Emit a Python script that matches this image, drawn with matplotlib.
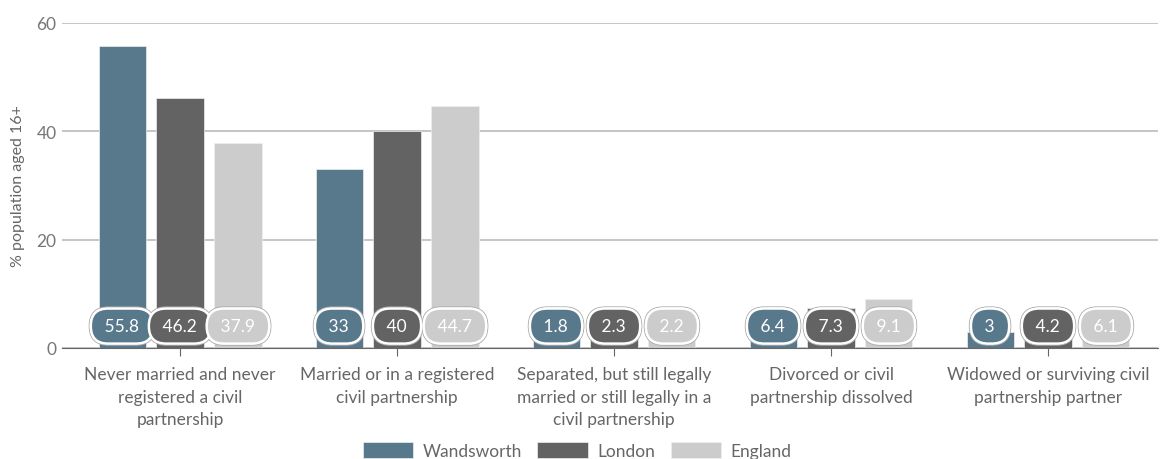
import matplotlib
matplotlib.use("Agg")
import matplotlib.pyplot as plt
import numpy as np

plt.rcParams['font.family'] = ['Lato', 'DejaVu Sans']

categories = ["Never married and never\nregistered a civil\npartnership",
              "Married or in a registered\ncivil partnership",
              "Separated, but still legally\nmarried or still legally in a\ncivil partnership",
              "Divorced or civil\npartnership dissolved",
              "Widowed or surviving civil\npartnership partner"]
series = ["Wandsworth", "London", "England"]
wandsworth = [55.8, 33, 1.8, 6.4, 3]
london = [46.2, 40, 2.3, 7.3, 4.2]
england = [37.9, 44.7, 2.2, 9.1, 6.1]
colors = ["#58788b", "#636363", "#cccccc"]

fig = plt.figure(figsize=(11.64, 4.6), dpi=100)
ax = fig.add_axes([62 / 1164, 111 / 460, 1096 / 1164, 325 / 460])

x = np.arange(len(categories))
w = 0.217
step = 0.267
fs = 12.5
for i, (name, vals) in enumerate(zip(series, [wandsworth, london, england])):
    xs = x + (i - 1) * step
    ax.bar(xs, vals, width=w, color=colors[i], label=name, zorder=2,
           edgecolor='#eeeeee', linewidth=0.5)
    for xi, v in zip(xs, vals):
        ax.text(xi, 4.05, f" {v:g} ", ha='center', va='center', color='white',
                fontsize=fs, zorder=4,
                bbox=dict(boxstyle='round,pad=0.55,rounding_size=1.0',
                          fc=colors[i], ec='white', lw=1.8))
        ax.text(xi, 4.05, f" {v:g} ", ha='center', va='center', color='none',
                fontsize=fs, zorder=3,
                bbox=dict(boxstyle='round,pad=0.64,rounding_size=1.1',
                          fc='none', ec='#aaaaaa', lw=0.8))

ax.set_xlim(-0.544, 4.507)
ax.set_ylim(0, 60)
ax.set_yticks([0, 20, 40, 60])
ax.yaxis.grid(True, color='#bbbbbb', linewidth=1.2, zorder=0)
ax.set_axisbelow(True)
for s in ['top', 'right', 'left']:
    ax.spines[s].set_visible(False)
ax.spines['bottom'].set_color('#666666')
ax.set_xticks(x)
ax.set_xticklabels(categories, fontsize=fs, color='#666666', linespacing=1.5)
ax.tick_params(axis='x', length=6, color='#666666', pad=7)
ax.tick_params(axis='y', length=0, labelsize=fs, labelcolor='#777777', pad=4)
ax.set_ylabel("% population aged 16+", fontsize=11.5, color='#666666', labelpad=8)

fig.legend(loc='center', bbox_to_anchor=(0.496, 8.5 / 460), ncol=3, frameon=False,
           fontsize=fs, handlelength=2.9, handleheight=1.0, columnspacing=0.86,
           handletextpad=0.57, labelcolor='#666666')

fig.savefig("out.png", dpi=100)
